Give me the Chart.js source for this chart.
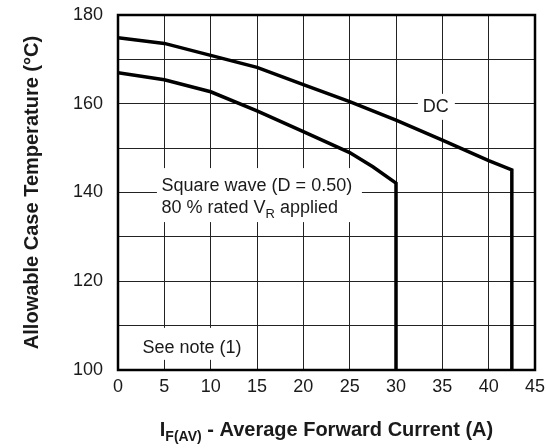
<!DOCTYPE html>
<html>
<head>
<meta charset="utf-8">
<script src="https://cdn.jsdelivr.net/npm/chart.js@4.4.0/dist/chart.umd.min.js"></script>
<style>html,body{margin:0;padding:0;background:#fff}canvas{display:block}</style>
</head>
<body>
<canvas id="chart" width="546" height="448"></canvas>
<script>
// ── Allowable case temperature vs average forward current ──

const dcCurrent = [0, 5, 10, 15, 20, 25, 30, 35, 40, 42.5, 42.5];
const dcTemp = [174.9, 173.6, 170.9, 168.2, 164.3, 160.5, 156.3, 151.8, 147.2, 145.1, 100];
const sqCurrent = [0, 5, 10, 15, 20, 25, 27.5, 30, 30];
const sqTemp = [167, 165.4, 162.7, 158.4, 153.7, 149, 145.8, 142.1, 100];
const yTickLabels = [100, 120, 140, 160, 180];

const FONT = "'Liberation Sans', Arial, sans-serif";
const TXT = '#1a1a1a';
Chart.defaults.font.family = FONT;

const toPts = (xs, ys) => xs.map((v, i) => ({ x: v, y: ys[i] }));

// white label boxes + texts, outer frame, axis titles
const decor = {
  id: 'decor',
  beforeDatasetsDraw(chart) {
    const { ctx, scales: { x, y } } = chart;
    ctx.save();
    ctx.fillStyle = '#fff';
    // DC
    let cx = x.getPixelForValue(34.3), cy = y.getPixelForValue(159.3);
    ctx.fillRect(cx - 18, cy - 13, 37, 26);
    // square wave
    ctx.fillRect(x.getPixelForValue(4.2), y.getPixelForValue(145.5), 205, 54);
    // see note
    ctx.fillRect(x.getPixelForValue(2.2), y.getPixelForValue(109.5), 112, 32);

    ctx.fillStyle = TXT;
    ctx.font = '18px ' + FONT;
    ctx.textBaseline = 'middle';
    ctx.textAlign = 'center';
    ctx.fillText('DC', cx, cy);

    ctx.textAlign = 'left';
    ctx.textBaseline = 'alphabetic';
    let lx = x.getPixelForValue(4.7);
    let b1 = y.getPixelForValue(140.3);
    ctx.fillText('Square wave (D = 0.50)', lx, b1);
    let t = '80 % rated V';
    ctx.fillText(t, lx, b1 + 22);
    lx += ctx.measureText(t).width;
    ctx.font = '13px ' + FONT;
    ctx.fillText('R', lx, b1 + 27);
    lx += ctx.measureText('R').width;
    ctx.font = '18px ' + FONT;
    ctx.fillText(' applied', lx, b1 + 22);

    ctx.fillText('See note (1)', x.getPixelForValue(2.65), y.getPixelForValue(103.8));
    ctx.restore();
  },
  afterDraw(chart) {
    const { ctx, chartArea: a } = chart;
    ctx.save();
    ctx.strokeStyle = '#000';
    ctx.lineWidth = 2.5;
    ctx.strokeRect(a.left, a.top, a.right - a.left, a.bottom - a.top);

    ctx.fillStyle = TXT;
    // x title with subscript
    const p1 = 'I', sub = 'F(AV)', p2 = ' - Average Forward Current (A)';
    ctx.font = 'bold 20px ' + FONT;
    const w1 = ctx.measureText(p1).width, w2 = ctx.measureText(p2).width;
    ctx.font = 'bold 14px ' + FONT;
    const ws = ctx.measureText(sub).width;
    let sx = (a.left + a.right) / 2 - (w1 + ws + w2) / 2;
    const base = 436;
    ctx.textAlign = 'left';
    ctx.font = 'bold 20px ' + FONT;
    ctx.fillText(p1, sx, base);
    ctx.font = 'bold 14px ' + FONT;
    ctx.fillText(sub, sx + w1, base + 5);
    ctx.font = 'bold 20px ' + FONT;
    ctx.fillText(p2, sx + w1 + ws, base);

    // y title
    ctx.translate(38, (a.top + a.bottom) / 2);
    ctx.rotate(-Math.PI / 2);
    ctx.textAlign = 'center';
    ctx.fillText('Allowable Case Temperature (°C)', 0, 0);
    ctx.restore();
  }
};

new Chart(document.getElementById('chart').getContext('2d'), {
  type: 'scatter',
  data: {
    datasets: [
      { label: 'DC', data: toPts(dcCurrent, dcTemp), showLine: true, borderColor: '#000', borderWidth: 3.5, pointRadius: 0, tension: 0 },
      { label: 'Square wave', data: toPts(sqCurrent, sqTemp), showLine: true, borderColor: '#000', borderWidth: 3.5, pointRadius: 0, tension: 0 }
    ]
  },
  options: {
    responsive: false,
    animation: false,
    layout: { padding: { top: 15, right: 11, left: 0, bottom: 0 } },
    plugins: { legend: { display: false }, tooltip: { enabled: false } },
    scales: {
      x: {
        type: 'linear', min: 0, max: 45,
        afterFit: s => { s.height = 78; s.paddingLeft = 0; s.paddingRight = 0; },
        border: { display: false },
        grid: { color: '#222', lineWidth: 1, drawTicks: false },
        ticks: { stepSize: 5, padding: 6, color: TXT, font: { size: 18 }, maxRotation: 0 }
      },
      y: {
        min: 100, max: 180,
        afterFit: s => { s.width = 118; s.paddingTop = 0; s.paddingBottom = 0; },
        border: { display: false },
        grid: { color: '#222', lineWidth: 1, drawTicks: false },
        ticks: { stepSize: 10, padding: 15, color: TXT, font: { size: 18 },
          callback: v => yTickLabels.includes(v) ? v : '' }
      }
    }
  },
  plugins: [decor]
});
</script>
</body>
</html>
